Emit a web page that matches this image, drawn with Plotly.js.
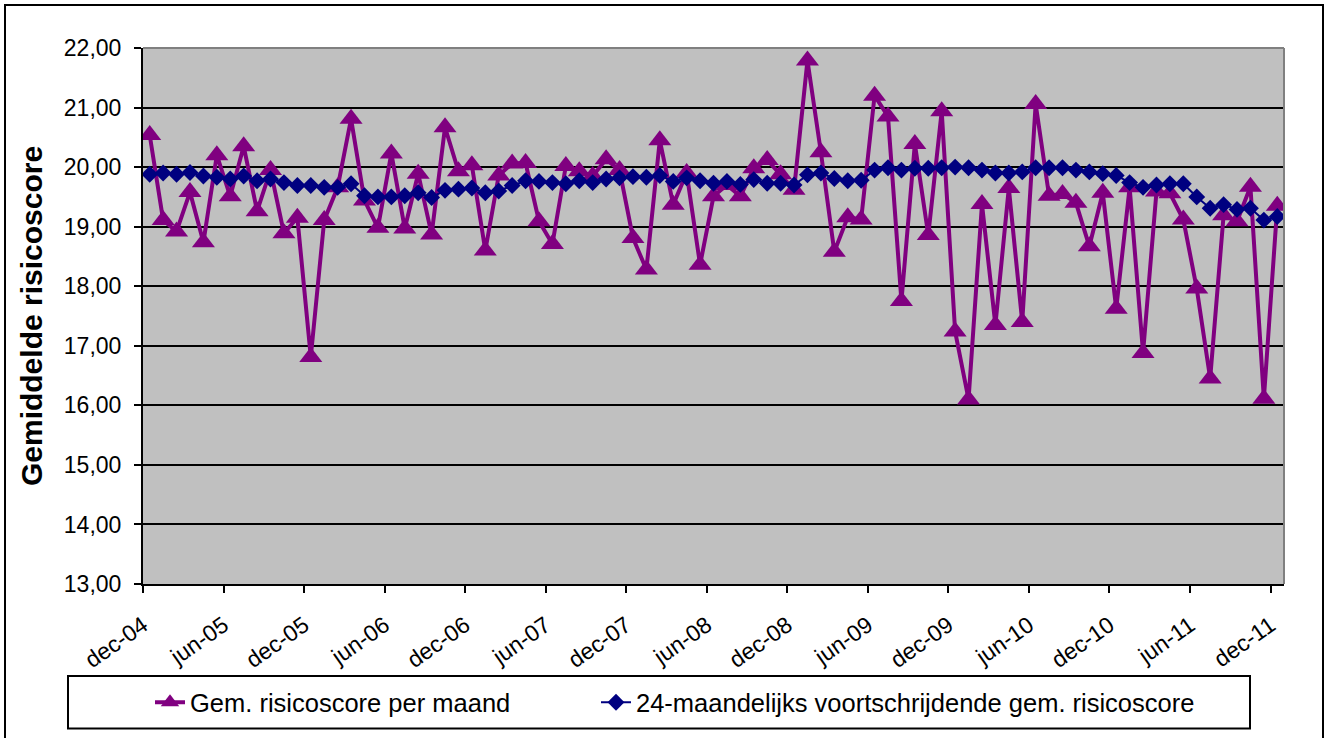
<!DOCTYPE html>
<html>
<head>
<meta charset="utf-8">
<script src="https://cdn.plot.ly/plotly-3.0.1.min.js"></script>
<style>
  html, body { margin: 0; padding: 0; background: #ffffff; }
  #wrap { position: relative; width: 1337px; height: 738px; overflow: hidden; }
  #chart { position: absolute; left: 0; top: 0; width: 1337px; height: 738px; }
  #frame { position: absolute; left: 4px; top: 4px; width: 1316px; height: 780px; border: 2px solid #000; pointer-events: none; }
</style>
</head>
<body>
<div id="wrap">
  <div id="chart"></div>
  <div id="frame"></div>
</div>
<script>
// Months (one point per month, dec-04 .. dec-11)
const months = [
  'dec-04',
  'jan-05','feb-05','mrt-05','apr-05','mei-05','jun-05','jul-05','aug-05','sep-05','okt-05','nov-05','dec-05',
  'jan-06','feb-06','mrt-06','apr-06','mei-06','jun-06','jul-06','aug-06','sep-06','okt-06','nov-06','dec-06',
  'jan-07','feb-07','mrt-07','apr-07','mei-07','jun-07','jul-07','aug-07','sep-07','okt-07','nov-07','dec-07',
  'jan-08','feb-08','mrt-08','apr-08','mei-08','jun-08','jul-08','aug-08','sep-08','okt-08','nov-08','dec-08',
  'jan-09','feb-09','mrt-09','apr-09','mei-09','jun-09','jul-09','aug-09','sep-09','okt-09','nov-09','dec-09',
  'jan-10','feb-10','mrt-10','apr-10','mei-10','jun-10','jul-10','aug-10','sep-10','okt-10','nov-10','dec-10',
  'jan-11','feb-11','mrt-11','apr-11','mei-11','jun-11','jul-11','aug-11','sep-11','okt-11','nov-11','dec-11'
];

// Gem. risicoscore per maand
const monthlyScore = [
  20.54, 19.11, 18.92, 19.58, 18.74, 20.20, 19.51, 20.35, 19.26, 19.95,
  18.89, 19.15, 16.81, 19.11, 19.66, 20.81, 19.44, 18.98, 20.23, 18.97,
  19.89, 18.87, 20.67, 19.93, 20.03, 18.60, 19.86, 20.06, 20.07, 19.09,
  18.71, 20.02, 19.93, 19.85, 20.13, 19.95, 18.81, 18.28, 20.45, 19.37,
  19.90, 18.36, 19.51, 19.70, 19.51, 19.98, 20.12, 19.88, 19.62, 21.79,
  20.25, 18.58, 19.16, 19.12, 21.20, 20.85, 17.75, 20.39, 18.86, 20.94,
  17.24, 16.10, 19.38, 17.35, 19.65, 17.40, 21.06, 19.52, 19.55, 19.40,
  18.67, 19.57, 17.62, 19.66, 16.88, 19.59, 19.56, 19.12, 17.96, 16.45,
  19.19, 19.09, 19.67, 16.11, 19.35
];

// 24-maandelijks voortschrijdende gem. risicoscore
const rollingScore = [
  19.88, 19.90, 19.88, 19.91, 19.85, 19.83, 19.80, 19.85, 19.77, 19.80,
  19.74, 19.69, 19.69, 19.66, 19.66, 19.72, 19.52, 19.50, 19.50, 19.52,
  19.57, 19.49, 19.61, 19.63, 19.65, 19.57, 19.60, 19.69, 19.77, 19.76,
  19.74, 19.72, 19.77, 19.74, 19.80, 19.82, 19.84, 19.83, 19.86, 19.76,
  19.82, 19.77, 19.73, 19.76, 19.71, 19.79, 19.73, 19.73, 19.70, 19.87,
  19.90, 19.81, 19.77, 19.78, 19.95, 19.99, 19.95, 19.98, 19.98, 19.99,
  20.00, 19.99, 19.95, 19.90, 19.90, 19.92, 19.99, 19.99, 19.99, 19.95,
  19.92, 19.89, 19.86, 19.74, 19.66, 19.70, 19.72, 19.72, 19.50, 19.31,
  19.37, 19.29, 19.31, 19.11, 19.17
];

// Tick labels (every 6 months)
const tickLabels = ['dec-04','jun-05','dec-05','jun-06','dec-06','jun-07','dec-07','jun-08',
                    'dec-08','jun-09','dec-09','jun-10','dec-10','jun-11','dec-11'];

const seriesNames = ['Gem. risicoscore per maand', '24-maandelijks voortschrijdende gem. risicoscore'];

const xIdx = months.map((m, i) => i);
const tickPos = tickLabels.map((t, k) => k * 6 - 0.5);

const FONT = 'Arial, "Liberation Sans", sans-serif';

const traces = [
  {
    x: xIdx, y: monthlyScore, text: months, name: seriesNames[0],
    type: 'scatter', mode: 'lines+markers',
    line: { color: '#800080', width: 4 },
    marker: { symbol: 'triangle-up', size: 20, color: '#800080' },
    hovertemplate: '%{text}: %{y:.2f}<extra></extra>',
    legend: 'legend'
  },
  {
    x: xIdx, y: rollingScore, text: months, name: seriesNames[1],
    type: 'scatter', mode: 'lines+markers',
    line: { color: '#000080', width: 2 },
    marker: { symbol: 'diamond', size: 13, color: '#000080' },
    hovertemplate: '%{text}: %{y:.2f}<extra></extra>',
    legend: 'legend2'
  }
];

// plot area: x 143..1284, y 48..590
const L = 143, R = 1284, T = 48, B = 590, W = 1337, H = 738;
const px2x = p => (p - L) / (R - L);
const px2y = p => (B - p) / (B - T);

const layout = {
  width: W, height: H,
  margin: { l: L, r: W - R, t: T, b: H - B, pad: 0 },
  paper_bgcolor: '#ffffff',
  plot_bgcolor: '#C0C0C0',
  separators: ',.',
  font: { family: FONT, color: '#000000', size: 22 },
  showlegend: true,
  xaxis: {
    range: [-0.5, months.length - 0.5],
    tickvals: tickPos, ticktext: tickLabels,
    tickangle: -35,
    ticks: 'outside', ticklen: 7, tickwidth: 2, tickcolor: '#000',
    ticklabelstandoff: 10,
    showgrid: false, zeroline: false,
    showline: true, linecolor: '#000', linewidth: 2,
    tickfont: { family: FONT, size: 23, color: '#000' },
    fixedrange: true
  },
  yaxis: {
    range: [13, 22], dtick: 1, tick0: 13,
    tickformat: '.2f',
    ticks: 'outside', ticklen: 7, tickwidth: 2, tickcolor: '#000',
    ticklabelstandoff: 8,
    showgrid: true, gridcolor: '#000000', gridwidth: 2,
    zeroline: false,
    showline: true, linecolor: '#000', linewidth: 2,
    tickfont: { family: FONT, size: 23, color: '#000' },
    title: { text: 'Gemiddelde risicoscore', font: { family: FONT, size: 30, color: '#000', weight: 'bold' }, standoff: 12 },
    fixedrange: true
  },
  legend: {
    orientation: 'h', x: px2x(150), y: px2y(710), xanchor: 'left', yanchor: 'middle',
    bgcolor: 'rgba(0,0,0,0)', borderwidth: 0,
    font: { family: FONT, size: 25.5, color: '#000' }
  },
  legend2: {
    orientation: 'h', x: px2x(596), y: px2y(710), xanchor: 'left', yanchor: 'middle',
    bgcolor: 'rgba(0,0,0,0)', borderwidth: 0,
    font: { family: FONT, size: 25.5, color: '#000' }
  },
  shapes: [
    // legend box
    { type: 'rect', xref: 'paper', yref: 'paper', x0: px2x(68), x1: px2x(1250), y0: px2y(736), y1: px2y(683),
      line: { color: '#000', width: 2 }, fillcolor: '#ffffff', layer: 'below' },
    // plot area top & right border (grey)
    { type: 'line', xref: 'paper', yref: 'paper', x0: 0, x1: 1, y0: 1, y1: 1, line: { color: '#808080', width: 2 }, layer: 'above' },
    { type: 'line', xref: 'paper', yref: 'paper', x0: 1, x1: 1, y0: 0, y1: 1, line: { color: '#808080', width: 2 }, layer: 'above' }
  ]
};

Plotly.newPlot('chart', traces, layout, { displayModeBar: false, staticPlot: true });
</script>
</body>
</html>
